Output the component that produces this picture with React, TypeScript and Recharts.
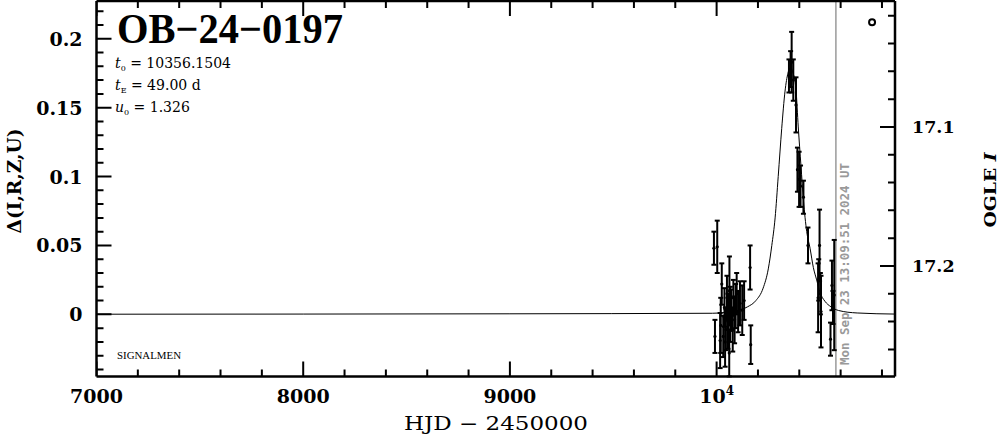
import React from 'react';
import { ComposedChart, Line, Scatter, XAxis, YAxis, ErrorBar, ReferenceLine, ReferenceDot } from 'recharts';

// Model light curve (HJD-2450000, delta mag)
const modelHjd = [7000, 8000, 9000, 9980, 10050, 10100, 10150, 10190, 10225, 10250, 10267, 10283, 10298, 10315, 10331, 10345, 10356, 10368, 10384, 10395, 10408, 10420, 10436, 10452, 10468, 10484, 10500, 10524, 10553, 10590, 10680, 10863];
const modelDelta = [0.0001, 0.0002, 0.0004, 0.0008, 0.0015, 0.0028, 0.0055, 0.010, 0.019, 0.033, 0.050, 0.070, 0.100, 0.135, 0.162, 0.175, 0.179, 0.176, 0.163, 0.136, 0.108, 0.083, 0.060, 0.048, 0.034, 0.025, 0.016, 0.0095, 0.0055, 0.0028, 0.001, 0.0002];

// OGLE observations
const obsHjd = [9987, 9992, 10003, 10017, 10020, 10025, 10032, 10038, 10041, 10045, 10050, 10055, 10061, 10062, 10066, 10070, 10078, 10081, 10087, 10092, 10097, 10104, 10113, 10124, 10133, 10162, 10165, 10350, 10358, 10363, 10371, 10384, 10391, 10399, 10406, 10420, 10442, 10491, 10494, 10498, 10502, 10505, 10551, 10558, 10563, 10569];
const obsDelta = [0.048, -0.016, 0.049, -0.019, -0.008, 0.022, -0.016, 0.005, -0.020, -0.011, 0.012, -0.005, -0.028, 0.017, 0.000, 0.003, -0.011, 0.012, -0.004, 0.006, 0.015, 0.002, 0.008, 0.003, 0.010, 0.034, -0.022, 0.173, 0.178, 0.183, 0.170, 0.152, 0.105, 0.098, 0.093, 0.085, 0.050, 0.012, 0.025, 0.050, 0.015, 0.002, -0.018, 0.021, 0.005, 0.014];
const obsErr = [0.012, 0.012, 0.019, 0.020, 0.020, 0.015, 0.015, 0.014, 0.018, 0.015, 0.016, 0.020, 0.017, 0.025, 0.020, 0.015, 0.016, 0.013, 0.017, 0.016, 0.015, 0.015, 0.016, 0.018, 0.014, 0.016, 0.014, 0.012, 0.013, 0.022, 0.015, 0.020, 0.016, 0.020, 0.015, 0.012, 0.013, 0.025, 0.015, 0.026, 0.015, 0.026, 0.012, 0.018, 0.012, 0.040];

// Axes
const xDomain = [7000, 10863];
const yDomain = [-0.0451, 0.2274];
const magDomain = [17.0094, 17.2795];
const xTicks = [7000, 7200, 7400, 7600, 7800, 8000, 8200, 8400, 8600, 8800, 9000, 9200, 9400, 9600, 9800, 10000, 10200, 10400, 10600, 10800];
const xMajor = [7000, 8000, 9000, 10000];
const xMajorLabels = ['7000', '8000', '9000', '10^4'];
const yTicks = [-0.04, -0.03, -0.02, -0.01, 0, 0.01, 0.02, 0.03, 0.04, 0.05, 0.06, 0.07, 0.08, 0.09, 0.1, 0.11, 0.12, 0.13, 0.14, 0.15, 0.16, 0.17, 0.18, 0.19, 0.2, 0.21, 0.22];
const yMajor = [0, 0.05, 0.1, 0.15, 0.2];
const yMajorLabels = ['0', '0.05', '0.1', '0.15', '0.2'];
const magTicks = [17.02, 17.04, 17.06, 17.08, 17.1, 17.12, 17.14, 17.16, 17.18, 17.2, 17.22, 17.24, 17.26];
const magMajor = [17.1, 17.2];
const magMajorLabels = ['17.1', '17.2'];

const nowHjd = 10577.05;
const symbolPos = [10752, 0.212];

const modelData = modelHjd.map((x, i) => ({ x, y: modelDelta[i] }));
const obsData = obsHjd.map((x, i) => ({ x, y: obsDelta[i], err: obsErr[i] }));

// tick-mark anchor points on the frame (placed through the axes' scales)
const bottomTickData = xTicks.map((x) => ({ x, y: yDomain[0] }));
const topTickData = xTicks.map((x) => ({ x, y: yDomain[1] }));
const leftTickData = yTicks.map((y) => ({ x: xDomain[0], y }));
const rightTickData = magTicks.map((y) => ({ x: xDomain[1], y }));

const majorIndex = (v: number, list: number[]) => list.findIndex((m) => Math.abs(m - Number(v)) < 1e-6);

const tickFont = 'DejaVu Serif';
const MARGIN = { top: 1, right: 104, bottom: 57.5, left: 96.5 };
const W = 999;
const H = 434;

const tickLen = (major: boolean) => (major ? 15 : 7);
const bottomShape = (p: any) => {
  const l = tickLen(majorIndex(p.payload.x, xMajor) >= 0);
  return <path d={`M${p.cx},${p.cy}L${p.cx},${p.cy - l}`} stroke="#000" strokeWidth={2} fill="none" />;
};
const topShape = (p: any) => {
  const l = tickLen(majorIndex(p.payload.x, xMajor) >= 0);
  return <path d={`M${p.cx},${p.cy}L${p.cx},${p.cy + l}`} stroke="#000" strokeWidth={2} fill="none" />;
};
const leftShape = (p: any) => {
  const l = tickLen(majorIndex(p.payload.y, yMajor) >= 0);
  return <path d={`M${p.cx},${p.cy}L${p.cx + l},${p.cy}`} stroke="#000" strokeWidth={2} fill="none" />;
};
const rightShape = (p: any) => {
  const l = tickLen(majorIndex(p.payload.y, magMajor) >= 0);
  return <path d={`M${p.cx},${p.cy}L${p.cx - l},${p.cy}`} stroke="#000" strokeWidth={2} fill="none" />;
};

function BottomTick(props: any) {
  const x = Number(props.x);
  const y = H - MARGIN.bottom;
  const idx = majorIndex(props.payload.value, xMajor);
  const label = idx >= 0 ? xMajorLabels[idx] : null;
  if (!label) return <g />;
  return (
    <text x={x} y={y + 26.5} textAnchor="middle" fontFamily={tickFont} fontWeight="bold" fontSize={19} fill="#000">
      {label.includes('^') ? (
        <>
          {label.split('^')[0]}
          <tspan fontSize={12} dy={-8}>{label.split('^')[1]}</tspan>
        </>
      ) : label}
    </text>
  );
}

function LeftTick(props: any) {
  const x = MARGIN.left;
  const y = Number(props.y);
  const idx = majorIndex(props.payload.value, yMajor);
  if (idx < 0) return <g />;
  return (
    <text x={x - 14} y={y + 7} textAnchor="end" fontFamily={tickFont} fontWeight="bold" fontSize={19} fill="#000">
      {yMajorLabels[idx]}
    </text>
  );
}

function RightTick(props: any) {
  const x = W - MARGIN.right;
  const y = Number(props.y);
  const idx = majorIndex(props.payload.value, magMajor);
  if (idx < 0) return <g />;
  return (
    <text x={x + 17} y={y + 6.5} textAnchor="start" fontFamily={tickFont} fontWeight="bold" fontSize={17.5} fill="#000">
      {magMajorLabels[idx]}
    </text>
  );
}

const dotShape = (p: any) => <circle cx={p.cx} cy={p.cy} r={1.6} fill="#000" />;

const frame = { stroke: '#000', strokeWidth: 2.5 };

export default function App() {
  return (
    <div style={{ position: 'absolute', left: 0, top: 0, width: W, height: H, background: '#fff' }}>
      <ComposedChart width={W} height={H} margin={{ top: 0, right: 0, bottom: 0, left: 0 }}>
        <XAxis xAxisId="b" dataKey="x" type="number" domain={xDomain} allowDataOverflow ticks={xTicks} interval={0}
          tickSize={0} tickMargin={0} tickLine={false} height={MARGIN.bottom} axisLine={frame} tick={BottomTick} />
        <XAxis xAxisId="t" orientation="top" dataKey="x" type="number" domain={xDomain} allowDataOverflow ticks={xTicks} interval={0}
          tickSize={0} tickMargin={0} tickLine={false} height={MARGIN.top} axisLine={frame} tick={false} />
        <YAxis yAxisId="l" dataKey="y" type="number" domain={yDomain} allowDataOverflow ticks={yTicks} interval={0}
          tickSize={0} tickMargin={0} tickLine={false} width={MARGIN.left} axisLine={frame} tick={LeftTick} />
        <YAxis yAxisId="r" dataKey="y" orientation="right" type="number" domain={magDomain} reversed allowDataOverflow ticks={magTicks} interval={0}
          tickSize={0} tickMargin={0} tickLine={false} width={MARGIN.right} axisLine={frame} tick={RightTick} />

        <ReferenceLine xAxisId="b" yAxisId="l" x={nowHjd} stroke="#9a9a9a" strokeWidth={1.5} />

        <Scatter xAxisId="b" yAxisId="l" data={bottomTickData} dataKey="y" shape={bottomShape} isAnimationActive={false} />
        <Scatter xAxisId="b" yAxisId="l" data={topTickData} dataKey="y" shape={topShape} isAnimationActive={false} />
        <Scatter xAxisId="b" yAxisId="l" data={leftTickData} dataKey="y" shape={leftShape} isAnimationActive={false} />
        <Scatter xAxisId="b" yAxisId="r" data={rightTickData} dataKey="y" shape={rightShape} isAnimationActive={false} />

        <Line xAxisId="b" yAxisId="l" data={modelData} dataKey="y" type="monotone" stroke="#000" strokeWidth={1}
          dot={false} activeDot={false} isAnimationActive={false} />
        <Scatter xAxisId="b" yAxisId="l" data={obsData} dataKey="y" shape={dotShape} isAnimationActive={false}>
          <ErrorBar dataKey="err" direction="y" width={2.5} strokeWidth={2} stroke="#000" isAnimationActive={false} />
        </Scatter>

        <ReferenceDot xAxisId="b" yAxisId="l" x={symbolPos[0]} y={symbolPos[1]} r={3} fill="none" stroke="#000" strokeWidth={2} />

        <text x={117} y={43} fontFamily="Liberation Serif" fontWeight="bold" fontSize={42} textLength={226} lengthAdjust="spacingAndGlyphs" fill="#000">OB−24−0197</text>
        <text x={115} y={68} fontFamily="DejaVu Serif" fontSize={14} fill="#000">
          <tspan fontStyle="italic">t</tspan><tspan fontSize={8} dy={3}>0</tspan><tspan dy={-3}> = 10356.1504</tspan>
        </text>
        <text x={115} y={90} fontFamily="DejaVu Serif" fontSize={14} fill="#000">
          <tspan fontStyle="italic">t</tspan><tspan fontSize={8} dy={3}>E</tspan><tspan dy={-3}> = 49.00 d</tspan>
        </text>
        <text x={115} y={112} fontFamily="DejaVu Serif" fontSize={14} fill="#000">
          <tspan fontStyle="italic">u</tspan><tspan fontSize={8} dy={3}>0</tspan><tspan dy={-3}> = 1.326</tspan>
        </text>
        <text x={117} y={359} fontFamily="Liberation Serif" fontSize={10} textLength={64} lengthAdjust="spacingAndGlyphs" fill="#000">SIGNALMEN</text>

        <text x={496} y={430} textAnchor="middle" fontFamily="DejaVu Serif" fontSize={19} textLength={184} lengthAdjust="spacingAndGlyphs" fill="#000">HJD − 2450000</text>
        <text transform="translate(14,181) rotate(-90)" textAnchor="middle" dominantBaseline="central" fontFamily="DejaVu Serif" fontWeight="bold" fontSize={18} textLength={105} lengthAdjust="spacingAndGlyphs" fill="#000">Δ(I,R,Z,U)</text>
        <text transform="translate(990,190) rotate(-90)" textAnchor="middle" dominantBaseline="central" fontFamily="DejaVu Serif" fontWeight="bold" fontSize={17} textLength={75} lengthAdjust="spacingAndGlyphs" fill="#000">
          OGLE <tspan fontStyle="italic">I</tspan>
        </text>
        <text transform="translate(844,264) rotate(-90)" textAnchor="middle" dominantBaseline="central" fontFamily="DejaVu Sans Mono" fontWeight="bold" fontSize={13} textLength={202} lengthAdjust="spacingAndGlyphs" fill="#9a9a9a">Mon Sep 23 13:09:51 2024 UT</text>
      </ComposedChart>
    </div>
  );
}
